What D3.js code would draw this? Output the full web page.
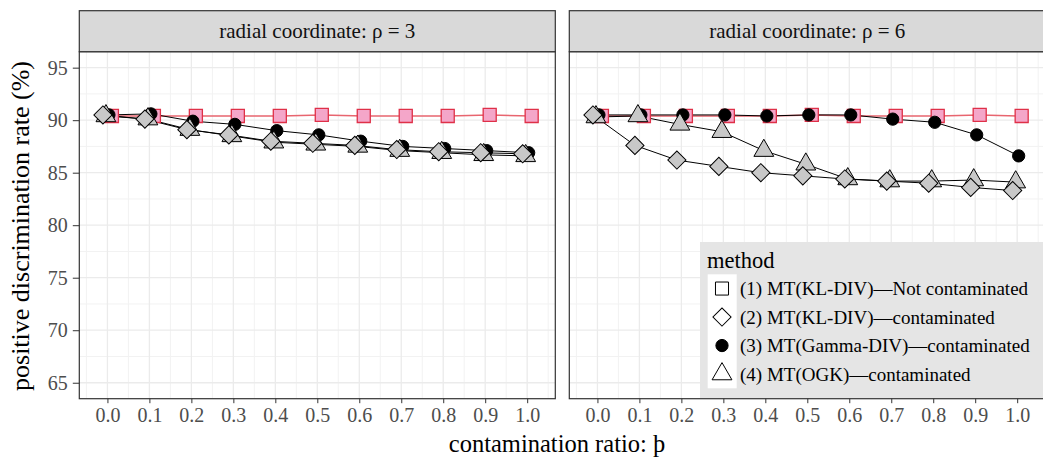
<!DOCTYPE html>
<html>
<head>
<meta charset="utf-8">
<script src="https://cdn.jsdelivr.net/npm/d3@7"></script>
<style>
body { margin: 0; background: #fff; }
text { font-family: "Liberation Serif", "Times New Roman", serif; }
</style>
</head>
<body>
<svg id="chart" width="1043" height="466"></svg>
<script>
// contamination ratio (x) and tick labels
var ratios = [0.0, 0.1, 0.2, 0.3, 0.4, 0.5, 0.6, 0.7, 0.8, 0.9, 1.0];
var xTickLabels = ["0.0", "0.1", "0.2", "0.3", "0.4", "0.5", "0.6", "0.7", "0.8", "0.9", "1.0"];
var yTicks = [65, 70, 75, 80, 85, 90, 95];

var panelTitles = ["radial coordinate: \u03C1 = 3", "radial coordinate: \u03C1 = 6"];
var methods = [
  "(1) MT(KL-DIV)\u2014Not contaminated",
  "(2) MT(KL-DIV)\u2014contaminated",
  "(3) MT(Gamma-DIV)\u2014contaminated",
  "(4) MT(OGK)\u2014contaminated"
];

// positive discrimination rate (%), rho = 3
var rho3_klClean = [90.4, 90.4, 90.4, 90.4, 90.4, 90.5, 90.4, 90.4, 90.4, 90.5, 90.4];
var rho3_klCont  = [90.5, 90.1, 89.1, 88.6, 88.0, 87.8, 87.6, 87.2, 87.0, 86.9, 86.8];
var rho3_gamma   = [90.5, 90.6, 89.9, 89.6, 89.0, 88.6, 88.0, 87.5, 87.3, 87.1, 86.9];
var rho3_ogk     = [90.4, 90.1, 89.1, 88.5, 87.9, 87.7, 87.5, 87.1, 86.9, 86.7, 86.6];

// rho = 6
var rho6_klClean = [90.4, 90.4, 90.4, 90.4, 90.4, 90.5, 90.4, 90.4, 90.4, 90.5, 90.4];
var rho6_klCont  = [90.5, 87.6, 86.2, 85.6, 85.0, 84.7, 84.4, 84.2, 84.0, 83.6, 83.3];
var rho6_gamma   = [90.5, 90.5, 90.5, 90.5, 90.4, 90.5, 90.5, 90.1, 89.8, 88.6, 86.6];
var rho6_ogk     = [90.3, 90.4, 89.6, 88.9, 87.1, 85.8, 84.4, 84.2, 84.2, 84.3, 84.1];

var panels = [
  { title: panelTitles[0], series: [rho3_klClean, rho3_klCont, rho3_gamma, rho3_ogk] },
  { title: panelTitles[1], series: [rho6_klClean, rho6_klCont, rho6_gamma, rho6_ogk] }
];

// look of each method
var styles = [
  { shape: "square",   fill: "#f4a6c9", stroke: "#df3048", line: "#e8656f", lw: 1.5 },
  { shape: "diamond",  fill: "#c8c8c8", stroke: "#000",    line: "#000",    lw: 1 },
  { shape: "circle",   fill: "#000",    stroke: "#000",    line: "#000",    lw: 1 },
  { shape: "triangle", fill: "#c8c8c8", stroke: "#000",    line: "#000",    lw: 1 }
];
var pointOrder = [0, 2, 3, 1];

function symbolPath(shape) {
  if (shape == "square") return d3.symbol().type(d3.symbolSquare).size(170)();
  if (shape == "diamond") return d3.symbol().type(d3.symbolSquare).size(165)();
  if (shape == "circle") return d3.symbol().type(d3.symbolCircle).size(118)();
  return d3.symbol().type(d3.symbolTriangle).size(170)();
}
function symbolRot(shape) { return shape == "diamond" ? " rotate(45)" : ""; }

var svg = d3.select("#chart");
var panelW = 476, pTop = 51.7, pBottom = 398.7, stripTop = 10.7;
var panelX = [79.3, 569.3];

var x = d3.scaleLinear().domain([-0.067, 1.067]).range([0, panelW]);
var y = d3.scaleLinear().domain([63.48, 96.52]).range([pBottom, pTop]);
// small side-by-side shift of the four methods at each ratio
var dodge = d3.scalePoint().domain([1, 3, 2, 0]).range([-0.0107, 0.0107]);

var minorX = d3.range(-0.05, 1.06, 0.1);
var minorY = [67.5, 72.5, 77.5, 82.5, 87.5, 92.5];

panels.forEach(function(p, pi) {
  var g = svg.append("g").attr("transform", "translate(" + panelX[pi] + ",0)");

  g.append("rect").attr("x", 0).attr("y", pTop).attr("width", panelW).attr("height", pBottom - pTop)
    .attr("fill", "#fff");

  g.selectAll(".minx").data(minorX).enter().append("line")
    .attr("x1", d => x(d)).attr("x2", d => x(d)).attr("y1", pTop).attr("y2", pBottom)
    .attr("stroke", "#f2f2f2").attr("stroke-width", 1);
  g.selectAll(".miny").data(minorY).enter().append("line")
    .attr("x1", 0).attr("x2", panelW).attr("y1", d => y(d)).attr("y2", d => y(d))
    .attr("stroke", "#f2f2f2").attr("stroke-width", 1);
  g.selectAll(".majx").data(ratios).enter().append("line")
    .attr("x1", d => x(d)).attr("x2", d => x(d)).attr("y1", pTop).attr("y2", pBottom)
    .attr("stroke", "#ebebeb").attr("stroke-width", 1.3);
  g.selectAll(".majy").data(yTicks).enter().append("line")
    .attr("x1", 0).attr("x2", panelW).attr("y1", d => y(d)).attr("y2", d => y(d))
    .attr("stroke", "#ebebeb").attr("stroke-width", 1.3);

  // lines
  p.series.forEach(function(vals, mi) {
    var line = d3.line()
      .x((d, i) => x(ratios[i] + dodge(mi)))
      .y(d => y(d));
    g.append("path").datum(vals).attr("d", line)
      .attr("fill", "none").attr("stroke", styles[mi].line).attr("stroke-width", styles[mi].lw);
  });

  // points
  pointOrder.forEach(function(mi) {
    var st = styles[mi];
    g.selectAll(".pt" + mi).data(p.series[mi]).enter().append("path")
      .attr("d", symbolPath(st.shape))
      .attr("transform", (d, i) => "translate(" + x(ratios[i] + dodge(mi)) + "," + y(d) + ")" + symbolRot(st.shape))
      .attr("fill", st.fill).attr("stroke", st.stroke).attr("stroke-width", mi == 0 ? 1.3 : 1);
  });

  // panel border
  g.append("rect").attr("x", 0).attr("y", pTop).attr("width", panelW).attr("height", pBottom - pTop)
    .attr("fill", "none").attr("stroke", "#333").attr("stroke-width", 1.2);

  // strip
  g.append("rect").attr("x", 0).attr("y", stripTop).attr("width", panelW).attr("height", pTop - stripTop)
    .attr("fill", "#d9d9d9").attr("stroke", "#333").attr("stroke-width", 1.2);
  g.append("text").attr("x", panelW / 2).attr("y", 38)
    .attr("text-anchor", "middle").attr("font-size", 21).attr("fill", "#111").text(p.title);

  // x axis
  var xAxis = d3.axisBottom(x).tickValues(ratios).tickFormat((d, i) => xTickLabels[i])
    .tickSize(4.5).tickPadding(5);
  var ax = g.append("g").attr("transform", "translate(0," + pBottom + ")").call(xAxis);
  ax.select(".domain").remove();
  ax.selectAll("line").attr("stroke", "#333");
  ax.selectAll("text").attr("font-size", 20).attr("fill", "#4d4d4d")
    .attr("font-family", "Liberation Serif");

  if (pi == 0) {
    var yAxis = d3.axisLeft(y).tickValues(yTicks).tickSize(6.5).tickPadding(5);
    var ay = g.append("g").call(yAxis);
    ay.select(".domain").remove();
    ay.selectAll("line").attr("stroke", "#333");
    ay.selectAll("text").attr("font-size", 20).attr("fill", "#4d4d4d")
      .attr("font-family", "Liberation Serif");
  }
});

// axis titles
svg.append("text").attr("x", 557).attr("y", 452).attr("text-anchor", "middle")
  .attr("font-size", 24.5).attr("fill", "#000").text("contamination ratio: \u00FE");
svg.append("text").attr("transform", "translate(29,226) rotate(-90)").attr("text-anchor", "middle")
  .attr("font-size", 26).attr("fill", "#000").text("positive discrimination rate (%)");

// legend
var leg = svg.append("g").attr("transform", "translate(700,242)");
leg.append("rect").attr("x", 0).attr("y", 0).attr("width", 360).attr("height", 156)
  .attr("fill", "#e5e5e5");
leg.append("text").attr("x", 7).attr("y", 26).attr("font-size", 22.5).attr("fill", "#000").text("method");
var keyTop = 32.3, keyH = 28.5;
leg.append("rect").attr("x", 7.7).attr("y", keyTop).attr("width", 29).attr("height", keyH * 4)
  .attr("fill", "#fff");
methods.forEach(function(m, i) {
  var cy = keyTop + keyH * (i + 0.5);
  var st = styles[i];
  leg.append("path").attr("d", symbolPath(st.shape))
    .attr("transform", "translate(22," + cy + ")" + symbolRot(st.shape))
    .attr("fill", st.shape == "circle" ? "#000" : "none").attr("stroke", "#000").attr("stroke-width", 1);
  leg.append("text").attr("x", 40).attr("y", cy + 6.5).attr("font-size", 19).attr("fill", "#000").text(m);
});
</script>
</body>
</html>
